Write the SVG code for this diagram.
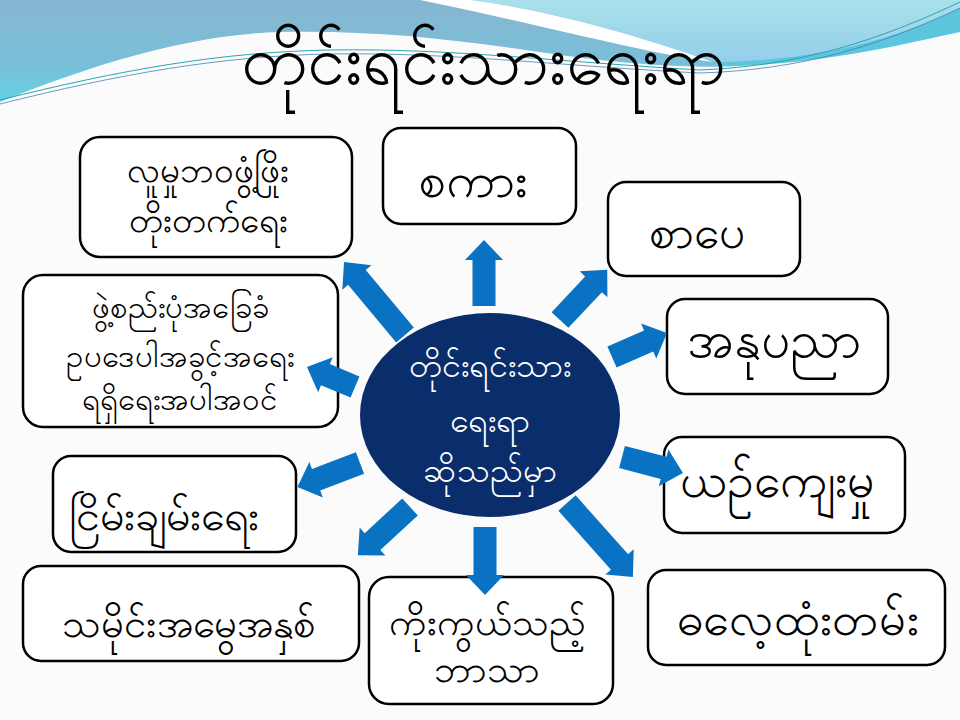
<svg xmlns="http://www.w3.org/2000/svg" width="960" height="720" viewBox="0 0 960 720">
<defs>
<linearGradient id="gBlue" x1="0" y1="0" x2="0" y2="1">
<stop offset="0" stop-color="#86b6d0"/>
<stop offset="0.6" stop-color="#79bfda"/>
<stop offset="1" stop-color="#5fd6e6"/>
</linearGradient>
<linearGradient id="gLight" x1="0" y1="0" x2="0" y2="1">
<stop offset="0" stop-color="#a9e0ea"/>
<stop offset="1" stop-color="#94cfeb"/>
</linearGradient>
<style>
.box{fill:#ffffff;stroke:#000000;stroke-width:2.5}
.t{font-family:"Noto Sans",sans-serif;fill:#000000;text-anchor:middle}
.w{font-family:"Noto Sans",sans-serif;fill:#ffffff;text-anchor:middle}
.arrow{fill:#0a72c2}
</style>
</defs>
<g id="background">
<rect x="0" y="0" width="960" height="720" fill="#fbfbfb"/>
<rect x="0" y="0" width="960" height="110" fill="url(#gBlue)"/>
<path d="M440,0 H960 V20 C880,50 800,62 720,62 C640,45 540,15 440,0 Z" fill="url(#gLight)"/>
<path d="M720,62 C820,60 900,38 960,8 V40 C900,62 820,68 720,66 Z" fill="#5cc6de"/>
<path d="M420,0 H470 C560,12 650,40 713,62 C640,52 530,22 420,0 Z" fill="#ffffff"/>
<path d="M0,102 C80,70 180,35 280,32 C380,30 460,40 560,55 C640,66 700,68 740,66 C830,62 900,45 960,32 V110 H0 Z" fill="#fbfbfb"/>
<path d="M0,100 C120,70 220,52 330,50 C450,48 560,62 700,70 C800,66 880,40 960,2" fill="none" stroke="#2aa6b0" stroke-width="1"/>
<path d="M0,104 C120,74 220,56 330,54 C450,52 560,66 700,73 C800,70 880,46 960,8" fill="none" stroke="#4a7fb0" stroke-width="0.8"/>
</g>
<text id="title" class="t" x="483" y="84" font-size="68">တိုင်းရင်းသားရေးရာ</text>
<g id="node-social">
<rect class="box" x="80" y="137" width="272" height="120" rx="20"/>
<text class="t" x="208" y="182" font-size="35">လူမှုဘဝဖွံ့ဖြိုး</text>
<text class="t" x="208" y="232" font-size="35">တိုးတက်ရေး</text>
</g>
<g id="node-constitution">
<rect class="box" x="23" y="275" width="315" height="152" rx="20"/>
<text class="t" x="180" y="318" font-size="31">ဖွဲ့စည်းပုံအခြေခံ</text>
<text class="t" x="180" y="367" font-size="31">ဥပဒေပါအခွင့်အရေး</text>
<text class="t" x="180" y="410" font-size="31">ရရှိရေးအပါအဝင်</text>
</g>
<g id="node-peace">
<rect class="box" x="53" y="456" width="243" height="96" rx="18"/>
<text class="t" x="164" y="530" font-size="43">ငြိမ်းချမ်းရေး</text>
</g>
<g id="node-heritage">
<rect class="box" x="23" y="566" width="336" height="95" rx="18"/>
<text class="t" x="189" y="637" font-size="40">သမိုင်းအမွေအနှစ်</text>
</g>
<g id="node-religion">
<rect class="box" x="369" y="577" width="244" height="127" rx="20"/>
<text class="t" x="487" y="635" font-size="38">ကိုးကွယ်သည့်</text>
<text class="t" x="487" y="682" font-size="38">ဘာသာ</text>
</g>
<g id="node-custom">
<rect class="box" x="648" y="570" width="297" height="95" rx="18"/>
<text class="t" x="798" y="635" font-size="47">ဓလေ့ထုံးတမ်း</text>
</g>
<g id="node-culture">
<rect class="box" x="664" y="437" width="241" height="96" rx="18"/>
<text class="t" x="777" y="497" font-size="48">ယဉ်ကျေးမှု</text>
</g>
<g id="node-art">
<rect class="box" x="667" y="299" width="221" height="95" rx="18"/>
<text class="t" x="774" y="357" font-size="51">အနုပညာ</text>
</g>
<g id="node-literature">
<rect class="box" x="608" y="182" width="192" height="94" rx="18"/>
<text class="t" x="697" y="248" font-size="46">စာပေ</text>
</g>
<g id="node-language">
<rect class="box" x="383" y="128" width="193" height="96" rx="18"/>
<text class="t" x="473" y="197" font-size="49">စကား</text>
</g>
<g id="connectors">
<path class="arrow" transform="translate(484,306) rotate(-90)" d="M0,-11.5 H46 V-19 L66,0 L46,19 V11.5 H0 Z"/>
<path class="arrow" transform="translate(405,335) rotate(-129.9)" d="M0,-11.5 H75 V-19 L95,0 L75,19 V11.5 H0 Z"/>
<path class="arrow" transform="translate(355,387) rotate(-157.4)" d="M0,-11.5 H32 V-19 L52,0 L32,19 V11.5 H0 Z"/>
<path class="arrow" transform="translate(360,463) rotate(159.1)" d="M0,-11.5 H47 V-19 L67,0 L47,19 V11.5 H0 Z"/>
<path class="arrow" transform="translate(410,507) rotate(137.3)" d="M0,-11.5 H51 V-19 L71,0 L51,19 V11.5 H0 Z"/>
<path class="arrow" transform="translate(485,527) rotate(90)" d="M0,-11.5 H48 V-19 L68,0 L48,19 V11.5 H0 Z"/>
<path class="arrow" transform="translate(567,503) rotate(48.3)" d="M0,-11.5 H79 V-19 L99,0 L79,19 V11.5 H0 Z"/>
<path class="arrow" transform="translate(622,457) rotate(14.7)" d="M0,-11.5 H43 V-19 L63,0 L43,19 V11.5 H0 Z"/>
<path class="arrow" transform="translate(612,357) rotate(-23.6)" d="M0,-11.5 H40 V-19 L60,0 L40,19 V11.5 H0 Z"/>
<path class="arrow" transform="translate(560,320) rotate(-46.8)" d="M0,-11.5 H49 V-19 L69,0 L49,19 V11.5 H0 Z"/>
</g>
<g id="center">
<ellipse cx="490" cy="415" rx="130" ry="102" fill="#0a2d6c"/>
<text class="w" x="490" y="377" font-size="34">တိုင်းရင်းသား</text>
<text class="w" x="490" y="432" font-size="34">ရေးရာ</text>
<text class="w" x="490" y="482" font-size="34">ဆိုသည်မှာ</text>
</g>
</svg>
